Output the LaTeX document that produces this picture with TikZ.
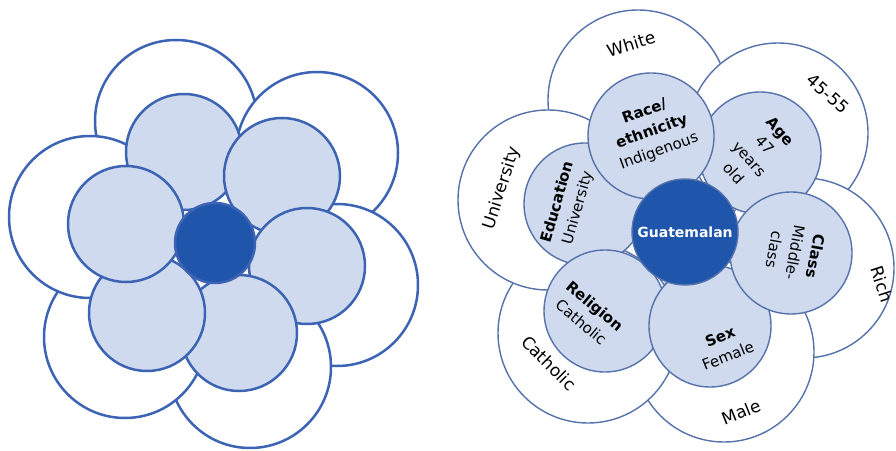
\documentclass[tikz,border=0pt]{standalone}
\usepackage{xcolor}
\usepackage{fontspec}
\setmainfont{DejaVu Sans}
\usepackage{tikz}
\usetikzlibrary{positioning}
\definecolor{petalline}{HTML}{3D64B4}
\definecolor{petalfill}{HTML}{CFDAEE}
\definecolor{coreblue}{HTML}{1F55AA}
\definecolor{thinline}{HTML}{5572AA}
\tikzset{
x=1pt, y=1pt, % one unit is one pixel of the picture
outer/.style={circle, draw=petalline, line width=2.5pt, fill=white, inner sep=0pt, minimum size=162pt}, % white outer ring
inner/.style={circle, draw=petalline, line width=2.5pt, fill=petalfill, inner sep=0pt, minimum size=116pt}, % light blue petals
core/.style={circle, draw=petalline, line width=2.5pt, fill=coreblue, inner sep=0pt, minimum size=80pt}, % dark middle
outerR/.style={outer, draw=thinline, line width=1.4pt, minimum size=180pt},
innerR/.style={inner, draw=thinline, line width=1.4pt, minimum size=122pt},
coreR/.style={core, draw=thinline, line width=1.4pt, minimum size=106pt},
lbl/.style={align=center, font=\fontsize{15}{21}\selectfont, inner sep=0pt}, % petal text
olbl/.style={lbl, font=\fontsize{17}{19}\selectfont}, % text on the outer ring
}

\begin{document}
\begin{tikzpicture}
    \useasboundingbox (0,0) rectangle (896,450);

    % left flower, outer petals (drawn clockwise so each one lies on the last)
    \node[outer] (l1) at (176,329) {};
    \node[outer] (l2) at (317,297) {};
    \node[outer] (l3) at (337,165) {};
    \node[outer] (l4) at (250,83) {};
    \node[outer] (l5) at (125,113) {};
    \node[outer] (l6) at (90,233) {};
    % left flower, inner petals
    \node[inner] (m1) at (184,298) {};
    \node[inner] (m2) at (282,274) {};
    \node[inner] (m3) at (307,184) {};
    \node[inner] (m4) at (239,117) {};
    \node[inner] (m5) at (147,137) {};
    \node[inner] (m6) at (126,226) {};
    \node[core] (lc) at (215,207) {};

    % right flower, outer petals
    \node[outerR] (white) at (638,350) {};
    \node[outerR] (age2) at (778,317) {};
    \node[outerR] (rich) at (804,182) {};
    \node[outerR] (male) at (724,98) {};
    \node[outerR] (cath) at (588,117) {};
    \node[outerR] (univ) at (548,250) {};
    % right flower, inner petals
    \node[innerR] (age) at (760,297) {};
    \node[innerR] (educ) at (585,246) {};
    \node[innerR] (relig) at (605,139) {};
    \node[innerR] (sex) at (710,124) {};
    \node[innerR] (class) at (791,197) {};
    \node[innerR, minimum size=126pt] (race) at (651,314) {};
    \node[coreR] (rc) at (685,218) {};

    % texts
    \node[olbl, rotate=17] (tw) at (631,406) {White};
    \node[olbl, rotate=-42] (ta) at (828,356) {45-55};
    \node[olbl, rotate=-72] (tr) at (882,166) {Rich};
    \node[olbl, rotate=22] (tm) at (741,38) {Male};
    \node[olbl, rotate=-45] (tc) at (549,87) {Catholic};
    \node[olbl, rotate=72] (tu) at (502,262) {University};
    \node[lbl, rotate=20] (trace) at (652,318) {\textbf{Race/}\\\textbf{ethnicity}\\Indigenous};
    \node[lbl, rotate=-48] (tage) at (757,298) {\textbf{Age}\\47\\years\\old};
    \node[lbl, rotate=-100] (tclass) at (795,197) {\textbf{Class}\\Middle-\\class};
    \node[lbl, rotate=22] (tsex) at (724,104) {\textbf{Sex}\\Female};
    \node[lbl, rotate=-40] (trel) at (588,136) {\textbf{Religion}\\Catholic};
    \node[lbl, rotate=74] (tedu) at (568,245) {\textbf{Education}\\University};
    \node[lbl, text=white, font=\fontsize{14}{16}\selectfont\bfseries] (tg) at (rc) {Guatemalan};
\end{tikzpicture}
\end{document}
